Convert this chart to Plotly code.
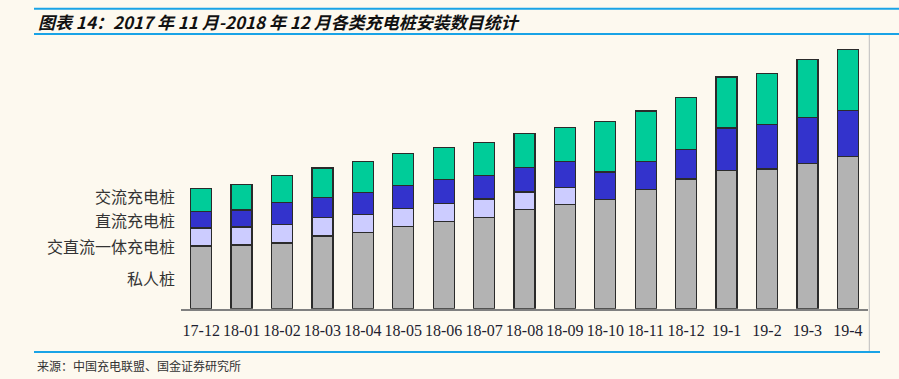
import plotly.graph_objects as go

W, H = 899, 379

categories = ["17-12", "18-01", "18-02", "18-03", "18-04", "18-05", "18-06", "18-07",
              "18-08", "18-09", "18-10", "18-11", "18-12", "19-1", "19-2", "19-3", "19-4"]
# values in 万台
private_piles = [23.4, 23.8, 24.5, 27.1, 28.5, 30.7, 32.5, 34.1, 37.0, 38.8,
                 40.7, 44.4, 48.4, 51.6, 52.1, 54.1, 56.7]
acdc_piles = [6.7, 6.7, 6.9, 6.8, 6.7, 6.8, 6.7, 6.8, 6.5, 6.3,
              None, None, None, None, None, None, None]
dc_piles = [6.2, 6.3, 8.1, 7.7, 8.1, 8.4, 9.0, 8.8, 9.1, 9.8,
            10.3, 10.6, 11.1, 15.8, 16.5, 17.2, 17.2]
ac_piles = [8.5, 9.4, 10.1, 10.9, 11.5, 12.0, 11.8, 12.4, 12.7, 12.6,
            18.7, 18.7, 19.4, 19.0, 19.2, 21.6, 22.8]

series = [
    ("私人桩", private_piles, "#b3b3b3"),
    ("交直流一体充电桩", acdc_piles, "#ccccff"),
    ("直流充电桩", dc_piles, "#3333cc"),
    ("交流充电桩", ac_piles, "#00cc99"),
]

def px(x):
    return x / W

def py(y):
    return 1 - y / H

fig = go.Figure()
for name, vals, color in series:
    fig.add_trace(go.Bar(
        x=categories, y=vals, name=name,
        marker=dict(color=color, line=dict(color="#2b2b2b", width=1.3)),
        hoverinfo="x+y+name",
    ))

y_bottom_px, y_top_px = 308.7, 40.0
y_max = (y_bottom_px - y_top_px) * 0.373

bg = "#fdf9ef"
blue = "#19a3e6"

fig.update_layout(
    width=W, height=H,
    barmode="stack", bargap=0.48,
    showlegend=False,
    paper_bgcolor=bg, plot_bgcolor=bg,
    margin=dict(l=0, r=0, t=0, b=0),
    xaxis=dict(
        type="category",
        domain=[px(181), px(868)],
        showline=True, linecolor="#808080", linewidth=2,
        ticks="", showgrid=False, zeroline=False,
        tickfont=dict(family="Liberation Serif", size=16, color="#1e1e30"),
        ticklabelstandoff=6,
    ),
    yaxis=dict(
        domain=[py(y_bottom_px), py(y_top_px)],
        range=[0, y_max], visible=False, showgrid=False, zeroline=False,
    ),
    shapes=[
        dict(type="line", xref="paper", yref="paper", x0=px(34), x1=1.0,
             y0=py(8.7), y1=py(8.7), line=dict(color=blue, width=2)),
        dict(type="line", xref="paper", yref="paper", x0=px(34), x1=1.0,
             y0=py(34), y1=py(34), line=dict(color=blue, width=2)),
        dict(type="line", xref="paper", yref="paper", x0=px(34), x1=px(880),
             y0=py(352), y1=py(352), line=dict(color=blue, width=2)),
        dict(type="line", xref="paper", yref="paper", x0=px(869.3), x1=px(869.3),
             y0=py(35), y1=py(351), line=dict(color="#bdbdbd", width=1)),
    ],
)

annotations = [
    dict(text="<b><i>图表 14：2017 年 11 月-2018 年 12 月各类充电桩安装数目统计</i></b>",
         x=px(36), y=py(21), xanchor="left", yanchor="middle",
         font=dict(family="Noto Sans CJK SC", size=17, color="#111111")),
    dict(text="来源：中国充电联盟、国金证券研究所",
         x=px(35), y=py(365), xanchor="left", yanchor="middle",
         font=dict(family="Noto Sans CJK SC", size=12, color="#333333")),
]
label_pos = [("交流充电桩", 196), ("直流充电桩", 220), ("交直流一体充电桩", 246), ("私人桩", 278)]
for text, ypix in label_pos:
    annotations.append(dict(text=text, x=px(177), y=py(ypix), xanchor="right", yanchor="middle",
                            font=dict(family="Noto Sans CJK SC", size=16, color="#333333")))
for a in annotations:
    a.update(xref="paper", yref="paper", showarrow=False)
fig.update_layout(annotations=annotations)

fig.write_html(
    "out.html",
    config={"displayModeBar": False},
    post_script="document.body.style.margin='0';document.body.style.padding='0';"
                "document.body.style.overflow='hidden';",
)
